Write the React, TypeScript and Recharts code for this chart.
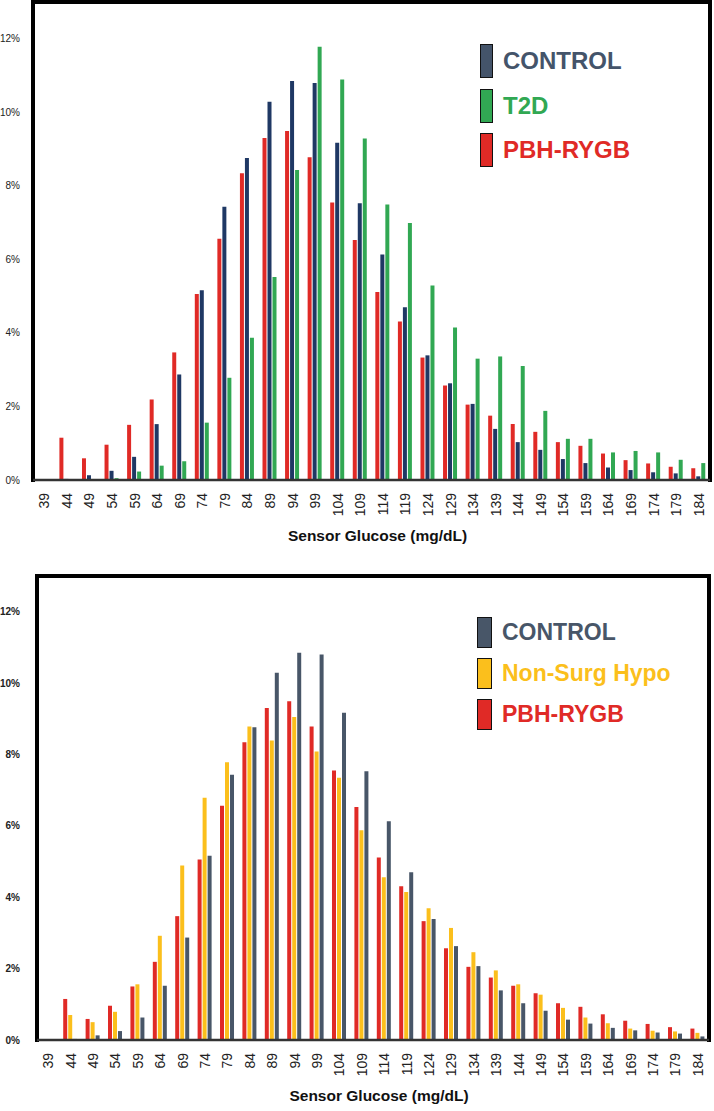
import React from "react";
import { BarChart, Bar, XAxis, YAxis, Legend, ReferenceArea } from "recharts";

// sensor glucose bins (mg/dL)
const glucose = ["39", "44", "49", "54", "59", "64", "69", "74", "79", "84", "89", "94", "99", "104", "109", "114", "119", "124", "129", "134", "139", "144", "149", "154", "159", "164", "169", "174", "179", "184"];

// % of time in each bin
const control = [0, 0.03, 0.13, 0.25, 0.63, 1.52, 2.87, 5.16, 7.43, 8.76, 10.29, 10.85, 10.8, 9.17, 7.53, 6.13, 4.7, 3.39, 2.63, 2.07, 1.39, 1.03, 0.82, 0.57, 0.46, 0.34, 0.27, 0.21, 0.18, 0.1];
const pbhRygb = [0, 1.15, 0.59, 0.96, 1.5, 2.19, 3.47, 5.06, 6.56, 8.34, 9.3, 9.49, 8.78, 7.55, 6.53, 5.11, 4.31, 3.33, 2.57, 2.05, 1.75, 1.52, 1.31, 1.03, 0.93, 0.72, 0.54, 0.45, 0.36, 0.32];
const t2d = [0, 0, 0, 0.05, 0.23, 0.39, 0.51, 1.56, 2.78, 3.87, 5.52, 8.43, 11.78, 10.89, 9.29, 7.49, 6.99, 5.29, 4.15, 3.3, 3.36, 3.1, 1.88, 1.12, 1.12, 0.75, 0.79, 0.75, 0.55, 0.46];
const nonSurgHypo = [0, 0.7, 0.5, 0.79, 1.56, 2.92, 4.89, 6.79, 7.78, 8.78, 8.39, 9.05, 8.08, 7.35, 5.88, 4.56, 4.15, 3.69, 3.14, 2.46, 1.95, 1.56, 1.27, 0.9, 0.63, 0.47, 0.32, 0.26, 0.24, 0.2];

const yTicks = [0, 2, 4, 6, 8, 10, 12];

const RED = "#e02a26";
const GREEN = "#31a853";
const NAVY = "#1f3864";
const SLATE = "#485668";
const YELLOW = "#fbbf1c";

const rows = glucose.map((g, i) => ({
  g,
  control: control[i],
  pbh: pbhRygb[i],
  t2d: t2d[i],
  nonSurg: nonSurgHypo[i],
}));

const FONT = "'Liberation Sans', Arial, sans-serif";
const X_AXIS_H = 62;

const GlucoseTick = (props: any) => {
  const { x, y, payload } = props;
  return (
    <g transform={`translate(${x},${y})`}>
      <text transform="rotate(-90)" x={-5} y={0} dy="0.36em" textAnchor="end" fontSize={14} fill="#222" fontFamily={FONT}>
        {payload.value}
      </text>
    </g>
  );
};

type LegendItem = { name: string; color: string };

function makeLegend(items: LegendItem[], swW: number, swH: number, step: number, fontSize: number) {
  return () => (
    <div style={{ position: "relative", width: 240, height: step * items.length }}>
      {items.map((it, i) => (
        <div key={it.name} style={{ position: "absolute", left: 0, top: i * step, height: swH, display: "flex", alignItems: "center" }}>
          <div style={{ width: swW, height: swH, background: it.color, border: "1.5px solid #111", boxSizing: "border-box" }} />
          <span style={{ marginLeft: 10, color: it.color, fontFamily: FONT, fontWeight: 700, fontSize, whiteSpace: "nowrap" }}>{it.name}</span>
        </div>
      ))}
    </div>
  );
}

type BarSpec = { key: string; color: string };

function Panel({
  top,
  height,
  margin,
  yWidth,
  boldTicks,
  bars,
  legendItems,
  legendPos,
  legendSize,
}: {
  top: number;
  height: number;
  margin: { top: number; right: number; left: number; bottom: number };
  yWidth: number;
  boldTicks: boolean;
  bars: BarSpec[];
  legendItems: LegendItem[];
  legendPos: { left: number; top: number };
  legendSize: [number, number, number, number];
}) {
  // plot box size, used only to leave the bottom edge of the frame open
  const w = 714 - margin.left - margin.right - yWidth;
  const h = height - margin.top - margin.bottom - X_AXIS_H;
  return (
    <div style={{ position: "absolute", left: 0, top }}>
      <BarChart width={714} height={height} data={rows} margin={margin} barCategoryGap="17%" barGap={1}>
        <XAxis
          dataKey="g"
          interval={0}
          tickLine={false}
          axisLine={{ stroke: "#333", strokeWidth: 2.5 }}
          tick={<GlucoseTick />}
          height={X_AXIS_H}
          label={{
            value: "Sensor Glucose (mg/dL)",
            position: "insideBottom",
            offset: 1,
            dx: 6,
            style: { fontFamily: FONT, fontWeight: 700, fontSize: 15.5, fill: "#111" },
          }}
        />
        <YAxis
          domain={[0, 13]}
          ticks={yTicks}
          width={yWidth}
          tickLine={false}
          tickSize={6}
          tickMargin={yWidth - 26}
          axisLine={false}
          tickFormatter={(v: number) => `${v}%`}
          tick={{ fontSize: 10, fontFamily: FONT, fill: "#222", fontWeight: boldTicks ? 700 : 400 }}
        />
        {/* thick frame on top, right and left sides */}
        <ReferenceArea
          y1={0}
          y2={13}
          fill="none"
          stroke="#000"
          strokeWidth={4}
          strokeLinecap="square"
          strokeDasharray={`${w + h} ${w} ${h + 4}`}
        />
        <Legend
          layout="horizontal"
          verticalAlign="middle"
          align="center"
          content={makeLegend(legendItems, legendSize[0], legendSize[1], legendSize[2], legendSize[3])}
          wrapperStyle={{ left: legendPos.left, top: legendPos.top, width: 240 }}
        />
        {bars.map((b) => (
          <Bar key={b.key} dataKey={b.key} fill={b.color} isAnimationActive={false} />
        ))}
      </BarChart>
    </div>
  );
}

export default function App() {
  return (
    <div style={{ position: "absolute", left: 0, top: 0, width: 714, height: 1111, background: "#fff" }}>
      <Panel
        top={0}
        height={560}
        margin={{ top: 2, right: 4, left: 0, bottom: 18 }}
        yWidth={33}
        boldTicks={false}
        bars={[
          { key: "pbh", color: RED },
          { key: "control", color: NAVY },
          { key: "t2d", color: GREEN },
        ]}
        legendItems={[
          { name: "CONTROL", color: "#44546a" },
          { name: "T2D", color: GREEN },
          { name: "PBH-RYGB", color: RED },
        ]}
        legendPos={{ left: 480, top: 44 }}
        legendSize={[13, 34, 44.5, 24]}
      />
      <Panel
        top={560}
        height={551}
        margin={{ top: 16, right: 5, left: 0, bottom: 9 }}
        yWidth={37}
        boldTicks={true}
        bars={[
          { key: "pbh", color: RED },
          { key: "nonSurg", color: YELLOW },
          { key: "control", color: SLATE },
        ]}
        legendItems={[
          { name: "CONTROL", color: SLATE },
          { name: "Non-Surg Hypo", color: YELLOW },
          { name: "PBH-RYGB", color: RED },
        ]}
        legendPos={{ left: 477, top: 57 }}
        legendSize={[15, 31, 41, 23]}
      />
    </div>
  );
}
